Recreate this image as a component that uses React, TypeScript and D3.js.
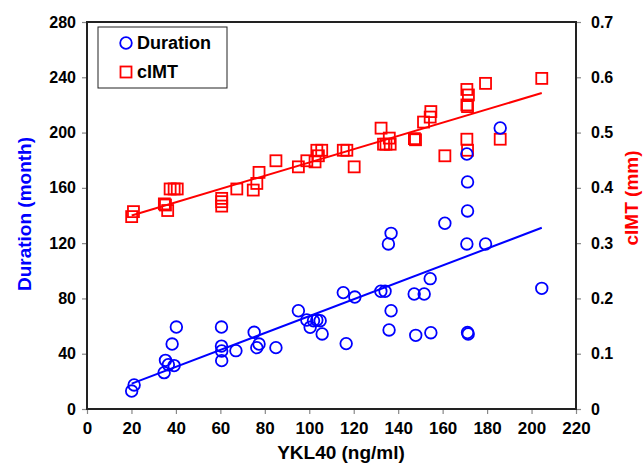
import React, { useRef, useEffect } from 'react';
import * as d3 from 'd3';

// YKL40 (ng/ml) vs Duration (month)
const durationX = [20.1, 21.2, 34.7, 35.3, 36.6, 39.2, 38.3, 40.2, 60.5, 60.5, 60.6, 60.6, 67, 75.2, 76.4, 77.4, 85,
    95.1, 98.9, 100.4, 101.9, 103.4, 104.9, 105.8, 115.3, 116.6, 120.5, 132.2, 134.1, 135.6, 136.8, 136.8, 135.9,
    147.2, 151.7, 154.4, 147.9, 154.7, 161, 171.2, 170.9, 171.5, 171.2, 179.3, 204.6, 170.9, 171.2, 185.9];
const durationY = [13, 17.4, 26.3, 35.2, 32, 31.4, 47, 59.3, 59.3, 45.5, 42, 35, 42.2, 55.5, 44.4, 47, 44.4,
    71.1, 64.4, 59.1, 63.9, 64.4, 63.9, 54.3, 84.2, 47.3, 81, 85.2, 85.2, 119.4, 127.1, 71.1, 57.2,
    83.2, 83.2, 94.3, 53.3, 55.2, 134.4, 143.3, 119.4, 54.3, 55.3, 119.4, 87.3, 184.5, 164.3, 203.3];

// YKL40 (ng/ml) vs cIMT (mm)
const cimtX = [20.1, 20.9, 34.8, 35.3, 36.3, 37.4, 39.2, 40.6, 60.6, 60.6, 60.6, 67.4, 74.8, 76.4, 77.4, 85,
    95.1, 98.9, 102.6, 103.4, 105.6, 104.1, 115.3, 116.9, 120.2, 132.3, 133.4, 136, 136.4, 134.5, 147.3, 147.8,
    151.4, 154.4, 154.7, 161, 170.9, 171.6, 170.9, 171.2, 170.9, 171.2, 179.3, 185.9, 204.6];
const cimtY = [0.348, 0.357, 0.371, 0.369, 0.359, 0.398, 0.398, 0.398, 0.381, 0.375, 0.367, 0.398, 0.396, 0.408, 0.428, 0.449,
    0.438, 0.449, 0.447, 0.468, 0.468, 0.458, 0.468, 0.468, 0.438, 0.508, 0.479, 0.49, 0.479, 0.479, 0.489, 0.487,
    0.519, 0.528, 0.538, 0.458, 0.578, 0.568, 0.55, 0.547, 0.488, 0.468, 0.589, 0.488, 0.598];

// linear fits: [intercept, slope, xStart, xEnd]
const durationFit = [6.1, 0.611, 20.1, 204.6];
const cimtFit = [0.326, 0.0012, 20.1, 204.6];

const xTicks = [0, 20, 40, 60, 80, 100, 120, 140, 160, 180, 200, 220];
const leftTicks = [0, 40, 80, 120, 160, 200, 240, 280];
const rightTicks = [0, 0.1, 0.2, 0.3, 0.4, 0.5, 0.6, 0.7];

const BLUE = '#0000ff';
const RED = '#ff0000';
const FONT = '"Liberation Sans", Arial, sans-serif';

const ScatterChart = () => {
    const svgRef = useRef(null);

    useEffect(() => {
        if (svgRef.current) draw(svgRef.current);
    }, []);

    return <svg ref={svgRef} width={643} height={463}
        style={{ display: 'block', position: 'absolute', left: 0, top: 0 }}></svg>;
};

function draw(node) {
    const left = 87, right = 576, top = 22, bottom = 409;

    const svg = d3.select(node);
    svg.selectAll('*').remove();

    const x = d3.scaleLinear().domain([0, 220]).range([left, right]);
    const yL = d3.scaleLinear().domain([0, 280]).range([bottom, top]);
    const yR = d3.scaleLinear().domain([0, 0.7]).range([bottom, top]);

    const bottomAxis = svg.append('g')
        .attr('transform', `translate(0,${bottom})`)
        .call(d3.axisBottom(x).tickValues(xTicks).tickSize(5).tickPadding(8).tickFormat(d3.format('d')));
    const leftAxis = svg.append('g')
        .attr('transform', `translate(${left},0)`)
        .call(d3.axisLeft(yL).tickValues(leftTicks).tickSize(5).tickPadding(6).tickFormat(d3.format('d')));
    const rightAxis = svg.append('g')
        .attr('transform', `translate(${right},0)`)
        .call(d3.axisRight(yR).tickValues(rightTicks).tickSize(5).tickPadding(10)
            .tickFormat(d => (d === 0 ? '0' : d3.format('.1f')(d))));

    [bottomAxis, leftAxis, rightAxis].forEach(a => {
        a.select('.domain').remove();
        a.selectAll('.tick line').attr('stroke', '#888').attr('stroke-width', 1.2);
        a.selectAll('.tick text')
            .style('font-family', FONT)
            .style('font-weight', 'bold')
            .style('font-size', '16px')
            .attr('fill', '#000');
    });
    bottomAxis.selectAll('.tick text').style('font-size', '17px');

    // plot frame
    svg.append('rect')
        .attr('x', left).attr('y', top)
        .attr('width', right - left).attr('height', bottom - top)
        .attr('fill', 'none')
        .attr('stroke', '#222')
        .attr('stroke-width', 2);

    // fit lines
    const line = d3.line().x(d => x(d[0]));
    const durLine = [durationFit[2], durationFit[3]].map(v => [v, durationFit[0] + durationFit[1] * v]);
    const cimtLine = [cimtFit[2], cimtFit[3]].map(v => [v, cimtFit[0] + cimtFit[1] * v]);

    svg.append('path')
        .attr('d', line.y(d => yL(d[1]))(durLine))
        .attr('stroke', BLUE).attr('stroke-width', 2).attr('fill', 'none');
    svg.append('path')
        .attr('d', line.y(d => yR(d[1]))(cimtLine))
        .attr('stroke', RED).attr('stroke-width', 2).attr('fill', 'none');

    // cIMT squares
    const sq = 11;
    svg.append('g').selectAll('rect')
        .data(cimtX.map((v, i) => [v, cimtY[i]]))
        .enter().append('rect')
        .attr('x', d => x(d[0]) - sq / 2)
        .attr('y', d => yR(d[1]) - sq / 2)
        .attr('width', sq).attr('height', sq)
        .attr('fill', 'none')
        .attr('stroke', RED).attr('stroke-width', 1.8);

    // Duration circles
    svg.append('g').selectAll('circle')
        .data(durationX.map((v, i) => [v, durationY[i]]))
        .enter().append('circle')
        .attr('cx', d => x(d[0]))
        .attr('cy', d => yL(d[1]))
        .attr('r', 5.8)
        .attr('fill', 'none')
        .attr('stroke', BLUE).attr('stroke-width', 1.8);

    // axis titles
    svg.append('text')
        .attr('x', 341).attr('y', 459)
        .attr('text-anchor', 'middle')
        .style('font-family', FONT).style('font-weight', 'bold').style('font-size', '19px')
        .attr('fill', '#000')
        .text('YKL40 (ng/ml)');

    svg.append('text')
        .attr('transform', 'translate(31,214) rotate(-90)')
        .attr('text-anchor', 'middle')
        .style('font-family', FONT).style('font-weight', 'bold').style('font-size', '19px')
        .attr('fill', BLUE)
        .text('Duration (month)');

    svg.append('text')
        .attr('transform', 'translate(638,198) rotate(-90)')
        .attr('text-anchor', 'middle')
        .style('font-family', FONT).style('font-weight', 'bold').style('font-size', '19px')
        .attr('fill', RED)
        .text('cIMT (mm)');

    // legend
    const legend = svg.append('g');
    legend.append('rect')
        .attr('x', 98).attr('y', 27).attr('width', 129).attr('height', 61)
        .attr('fill', '#fff').attr('stroke', '#222').attr('stroke-width', 1);

    const items = [
        { label: 'Duration', color: BLUE, shape: 'circle' },
        { label: 'cIMT', color: RED, shape: 'square' }
    ];
    items.forEach((item, i) => {
        const cy = 43 + i * 29;
        if (item.shape === 'circle') {
            legend.append('circle')
                .attr('cx', 126).attr('cy', cy).attr('r', 5.8)
                .attr('fill', 'none').attr('stroke', item.color).attr('stroke-width', 1.8);
        } else {
            legend.append('rect')
                .attr('x', 126 - sq / 2).attr('y', cy - sq / 2).attr('width', sq).attr('height', sq)
                .attr('fill', 'none').attr('stroke', item.color).attr('stroke-width', 1.8);
        }
        legend.append('text')
            .attr('x', 137).attr('y', cy + 6)
            .style('font-family', FONT).style('font-weight', 'bold').style('font-size', '18px')
            .attr('fill', '#000')
            .text(item.label);
    });
}

export default function App() {
    return <ScatterChart />;
}
